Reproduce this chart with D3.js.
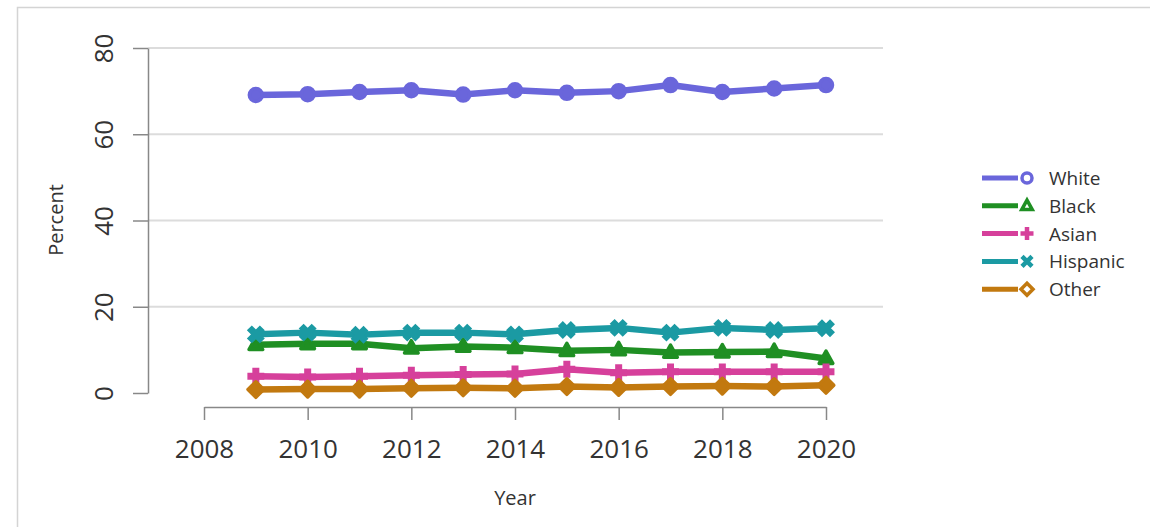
<!DOCTYPE html>
<html>
<head>
<meta charset="utf-8">
<script src="https://cdn.jsdelivr.net/npm/d3@7"></script>
<style>
  html, body { margin: 0; padding: 0; background: #fff; }
  svg { display: block; }
  text { font-family: "Open Sans", sans-serif; fill: #333; }
</style>
</head>
<body>
<svg id="chart" width="1150" height="527"></svg>
<script>
const years = [2009, 2010, 2011, 2012, 2013, 2014, 2015, 2016, 2017, 2018, 2019, 2020];
const seriesNames = ["White", "Black", "Asian", "Hispanic", "Other"];
const white    = [69.1, 69.3, 69.8, 70.2, 69.2, 70.2, 69.6, 70.0, 71.4, 69.8, 70.6, 71.4];
const black    = [11.2, 11.4, 11.4, 10.4, 10.8, 10.5,  9.8, 10.0,  9.4,  9.5,  9.6,  8.0];
const asian    = [ 3.9,  3.7,  3.9,  4.1,  4.3,  4.4,  5.5,  4.7,  4.9,  4.9,  4.9,  4.9];
const hispanic = [13.6, 14.0, 13.5, 14.0, 14.0, 13.6, 14.6, 15.1, 14.0, 15.1, 14.6, 15.0];
const other    = [ 0.8,  0.9,  0.9,  1.1,  1.2,  1.1,  1.5,  1.3,  1.5,  1.6,  1.5,  1.8];
const xTicks = [2008, 2010, 2012, 2014, 2016, 2018, 2020];
const yTicks = [0, 20, 40, 60, 80];
const colors = ["#6a66db", "#1f8f23", "#d6409b", "#1b9aa3", "#c2790f"];
const shapes = ["circle", "triangle", "plus", "cross", "diamond"];
const values = [white, black, asian, hispanic, other];

const svg = d3.select("#chart");

// frame
svg.append("path")
  .attr("d", "M17.5,527 L17.5,7.5 L1150,7.5")
  .attr("fill", "none").attr("stroke", "#d4d4d4").attr("stroke-width", 1.5);

const x = d3.scaleLinear().domain([2008, 2020]).range([204, 826]);
const y = d3.scaleLinear().domain([0, 80]).range([393, 48]);

// gridlines
svg.append("g").selectAll("line").data(yTicks.filter(d => d > 0)).join("line")
  .attr("x1", 148).attr("x2", 883)
  .attr("y1", d => y(d)).attr("y2", d => y(d))
  .attr("stroke", "#dcdcdc").attr("stroke-width", 2);

// y axis
const yAxis = svg.append("g").attr("transform", "translate(148,0)")
  .call(d3.axisLeft(y).tickValues(yTicks).tickSize(15).tickSizeOuter(0).tickPadding(0));
yAxis.select(".domain").attr("stroke", "#888").attr("stroke-width", 1.5);
yAxis.selectAll(".tick line").attr("stroke", "#888").attr("stroke-width", 1.5);
yAxis.selectAll(".tick text")
  .attr("transform", "rotate(-90)")
  .attr("x", 0).attr("y", -35)
  .attr("dy", 0)
  .attr("text-anchor", "middle")
  .style("font-family", "'Open Sans', sans-serif")
  .style("font-size", "26px").style("fill", "#333");

// x axis
const xAxis = svg.append("g").attr("transform", "translate(0,407)")
  .call(d3.axisBottom(x).tickValues(xTicks).tickFormat(d3.format("d")).tickSize(13).tickSizeOuter(0).tickPadding(0));
xAxis.select(".domain").attr("stroke", "#888").attr("stroke-width", 1.5);
xAxis.selectAll(".tick line").attr("stroke", "#888").attr("stroke-width", 1.5);
xAxis.selectAll(".tick text")
  .attr("y", 51).attr("dy", 0)
  .style("font-family", "'Open Sans', sans-serif")
  .style("font-size", "26px").style("fill", "#333");

// axis titles
svg.append("text").attr("x", 515).attr("y", 505).attr("text-anchor", "middle")
  .style("font-size", "20px").text("Year");
svg.append("text").attr("transform", "translate(63,220) rotate(-90)").attr("text-anchor", "middle")
  .style("font-size", "20px").text("Percent");

// marker path generator
function markerPath(shape, s) {
  switch (shape) {
    case "circle": return d3.symbol(d3.symbolCircle, Math.PI * s * s)();
    case "triangle": return `M0,${-s * 1.15} L${s * 1.05},${s * 0.75} L${-s * 1.05},${s * 0.75} Z`;
    case "diamond": return `M0,${-s * 1.2} L${s * 1.2},0 L0,${s * 1.2} L${-s * 1.2},0 Z`;
    case "plus": return `M0,${-s * 1.3} L0,${s * 1.3} M${-s * 1.3},0 L${s * 1.3},0`;
    case "cross": return `M${-s},${-s} L${s},${s} M${-s},${s} L${s},${-s}`;
  }
}

const line = d3.line().x(d => x(d[0])).y(d => y(d[1]));

seriesNames.forEach((name, i) => {
  const pts = years.map((yr, j) => [yr, values[i][j]]);
  const g = svg.append("g");
  g.append("path").datum(pts).attr("d", line)
    .attr("fill", "none").attr("stroke", colors[i]).attr("stroke-width", 6.5)
    .attr("stroke-linejoin", "round");
  const filled = shapes[i] !== "plus" && shapes[i] !== "cross";
  g.selectAll("path.m").data(pts).join("path").attr("class", "m")
    .attr("transform", d => `translate(${x(d[0])},${y(d[1])})`)
    .attr("d", markerPath(shapes[i], shapes[i] === "circle" ? 6.5 : 6.5))
    .attr("fill", filled ? colors[i] : "none")
    .attr("stroke", colors[i])
    .attr("stroke-width", filled ? 3.5 : 7)
    .attr("stroke-linejoin", "round");
});

// legend
const legend = svg.append("g");
seriesNames.forEach((name, i) => {
  const ly = 178 + i * 27.8;
  legend.append("line").attr("x1", 982).attr("x2", 1018).attr("y1", ly).attr("y2", ly)
    .attr("stroke", colors[i]).attr("stroke-width", 5);
  const open = shapes[i] !== "plus" && shapes[i] !== "cross";
  legend.append("path")
    .attr("transform", `translate(1027,${ly})`)
    .attr("d", markerPath(shapes[i], open ? 5 : 5))
    .attr("fill", open ? "#fff" : "none")
    .attr("stroke", colors[i]).attr("stroke-width", open ? 3.5 : 4.5);
  legend.append("text").attr("x", 1049).attr("y", ly + 7)
    .style("font-size", "19px").text(name);
});
</script>
</body>
</html>
